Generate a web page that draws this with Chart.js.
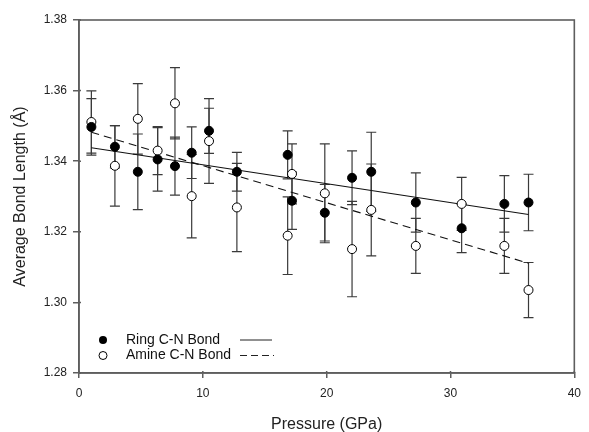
<!DOCTYPE html>
<html>
<head>
<meta charset="utf-8">
<script src="https://cdn.jsdelivr.net/npm/chart.js@4.4.1/dist/chart.umd.min.js"></script>
<style>
html,body{margin:0;padding:0;background:#fff;}
#wrap{width:589px;height:432px;}
</style>
</head>
<body>
<div id="wrap"><canvas id="c" width="589" height="432"></canvas></div>
<script>
// ---- data ----
const pressures = [1.0, 2.9, 4.75, 6.35, 7.75, 9.1, 10.5, 12.75, 16.85, 17.2, 19.85, 22.05, 23.6, 27.2, 30.9, 34.35, 36.3];
const ringBond  = [1.3497, 1.3441, 1.3370, 1.3405, 1.3386, 1.3424, 1.3486, 1.3370, 1.3418, 1.3288, 1.3254, 1.3353, 1.3370, 1.3283, 1.3210, 1.3279, 1.3283];
const ringErr   = [0.0080, 0.0060, 0.0107, 0.0090, 0.0082, 0.0073, 0.0064, 0.0055, 0.0068, 0.0081, 0.0080, 0.0076, 0.0112, 0.0084, 0.0069, 0.0080, 0.0080];
const amineBond = [1.3511, 1.3387, 1.3520, 1.3430, 1.3564, 1.3301, 1.3457, 1.3269, 1.3189, 1.3364, 1.3309, 1.3151, 1.3262, 1.3160, 1.3279, 1.3160, 1.3035];
const amineErr  = [0.0088, 0.0114, 0.0100, 0.0068, 0.0101, 0.0118, 0.0120, 0.0125, 0.0110, 0.0085, 0.0140, 0.0135, 0.0130, 0.0078, 0.0075, 0.0078, 0.0078];
const fitX      = [1.0, 36.3];
const ringFit   = [1.3438, 1.3249];
const amineFit  = [1.3482, 1.3111];
const xTicks    = [0, 10, 20, 30, 40];
const yTicks    = [1.28, 1.30, 1.32, 1.34, 1.36, 1.38];
const seriesNames = ['Ring C-N Bond', 'Amine C-N Bond'];
const xTitle = 'Pressure (GPa)';
const yTitle = 'Average Bond Length (Å)';

const AXIS = '#5e5e5e';
const FONT = "'Liberation Sans', Arial, sans-serif";

const pts = (xs, ys) => xs.map((x, i) => ({x: x, y: ys[i]}));

const errorBars = {
  id: 'errorBars',
  beforeDatasetsDraw(chart) {
    const {ctx, scales: {x, y}} = chart;
    ctx.save();
    ctx.strokeStyle = '#3a3a3a';
    ctx.lineWidth = 1.2;
    const draw = (vals, errs) => {
      vals.forEach((v, i) => {
        const px = x.getPixelForValue(pressures[i]);
        const top = y.getPixelForValue(v + errs[i]);
        const bot = y.getPixelForValue(v - errs[i]);
        ctx.beginPath();
        ctx.moveTo(px, top); ctx.lineTo(px, bot);
        ctx.moveTo(px - 5, top); ctx.lineTo(px + 5, top);
        ctx.moveTo(px - 5, bot); ctx.lineTo(px + 5, bot);
        ctx.stroke();
      });
    };
    draw(amineBond, amineErr);
    draw(ringBond, ringErr);
    ctx.restore();
  }
};

const frame = {
  id: 'frame',
  afterDraw(chart) {
    const {ctx, chartArea: a, scales: {x, y}} = chart;
    ctx.save();
    ctx.strokeStyle = AXIS;
    ctx.lineWidth = 1.6;
    ctx.strokeRect(a.left, a.top, a.right - a.left, a.bottom - a.top);
    // small inner tick stubs
    ctx.lineWidth = 1.5;
    ctx.beginPath();
    xTicks.forEach(v => { const px = x.getPixelForValue(v); ctx.moveTo(px, a.bottom); ctx.lineTo(px, a.bottom - 2); });
    yTicks.forEach(v => { const py = y.getPixelForValue(v); ctx.moveTo(a.left, py); ctx.lineTo(a.left + 2, py); });
    ctx.stroke();
    // legend
    const lx = a.left + 24, ly1 = a.bottom - 33, ly2 = a.bottom - 17.5;
    ctx.fillStyle = '#000'; ctx.strokeStyle = '#000'; ctx.lineWidth = 1;
    ctx.beginPath(); ctx.arc(lx, ly1, 4, 0, Math.PI * 2); ctx.fill();
    ctx.fillStyle = '#fff';
    ctx.beginPath(); ctx.arc(lx, ly2, 4, 0, Math.PI * 2); ctx.fill(); ctx.stroke();
    ctx.fillStyle = '#111';
    ctx.font = '14px ' + FONT;
    ctx.textBaseline = 'middle';
    ctx.textAlign = 'left';
    ctx.fillText(seriesNames[0], a.left + 47, ly1);
    ctx.fillText(seriesNames[1], a.left + 47, ly2);
    ctx.strokeStyle = '#222'; ctx.lineWidth = 1;
    ctx.beginPath(); ctx.moveTo(a.left + 161, ly1); ctx.lineTo(a.left + 193, ly1); ctx.stroke();
    ctx.setLineDash([7, 4]);
    ctx.beginPath(); ctx.moveTo(a.left + 161, ly2); ctx.lineTo(a.left + 195, ly2); ctx.stroke();
    ctx.restore();
  }
};

new Chart(document.getElementById('c'), {
  type: 'scatter',
  data: {
    datasets: [
      {label: seriesNames[0], data: pts(pressures, ringBond), pointRadius: 4.5, pointHoverRadius: 4.5,
       backgroundColor: '#000', borderColor: '#000', borderWidth: 1, showLine: false},
      {label: seriesNames[1], data: pts(pressures, amineBond), pointRadius: 4.5, pointHoverRadius: 4.5,
       backgroundColor: '#fff', borderColor: '#000', borderWidth: 1, showLine: false},
      {label: 'ringFit', data: pts(fitX, ringFit), showLine: true, pointRadius: 0,
       borderColor: '#111', borderWidth: 1.1, fill: false},
      {label: 'amineFit', data: pts(fitX, amineFit), showLine: true, pointRadius: 0,
       borderColor: '#111', borderWidth: 1.1, borderDash: [8, 5], fill: false}
    ]
  },
  options: {
    responsive: false,
    devicePixelRatio: 1,
    animation: false,
    layout: {autoPadding: false, padding: {left: 0, right: 10, top: 20, bottom: 0}},
    plugins: {legend: {display: false}, tooltip: {enabled: false}},
    scales: {
      x: {
        type: 'linear', min: 0, max: 40,
        afterFit: s => { s.height = 59; },
        afterBuildTicks: s => { s.ticks = xTicks.map(v => ({value: v})); },
        ticks: {color: '#222', font: {family: FONT, size: 12}, padding: 8, callback: v => String(v)},
        grid: {display: true, drawOnChartArea: false, drawTicks: true, tickLength: 5, color: AXIS, lineWidth: 1.5},
        border: {display: true, color: AXIS, width: 1.6},
        title: {display: true, text: xTitle, color: '#222', font: {family: FONT, size: 16}, padding: {top: 0, bottom: -2}}
      },
      y: {
        type: 'linear', min: 1.28, max: 1.38,
        afterFit: s => { s.width = 79; },
        afterBuildTicks: s => { s.ticks = yTicks.map(v => ({value: v})); },
        ticks: {color: '#222', font: {family: FONT, size: 12}, padding: 6, callback: v => v.toFixed(2)},
        grid: {display: true, drawOnChartArea: false, drawTicks: true, tickLength: 6, color: AXIS, lineWidth: 1.5},
        border: {display: true, color: AXIS, width: 1.6},
        title: {display: true, text: yTitle, color: '#222', font: {family: FONT, size: 16}, padding: {top: 11, bottom: 0}}
      }
    }
  },
  plugins: [errorBars, frame]
});
</script>
</body>
</html>
